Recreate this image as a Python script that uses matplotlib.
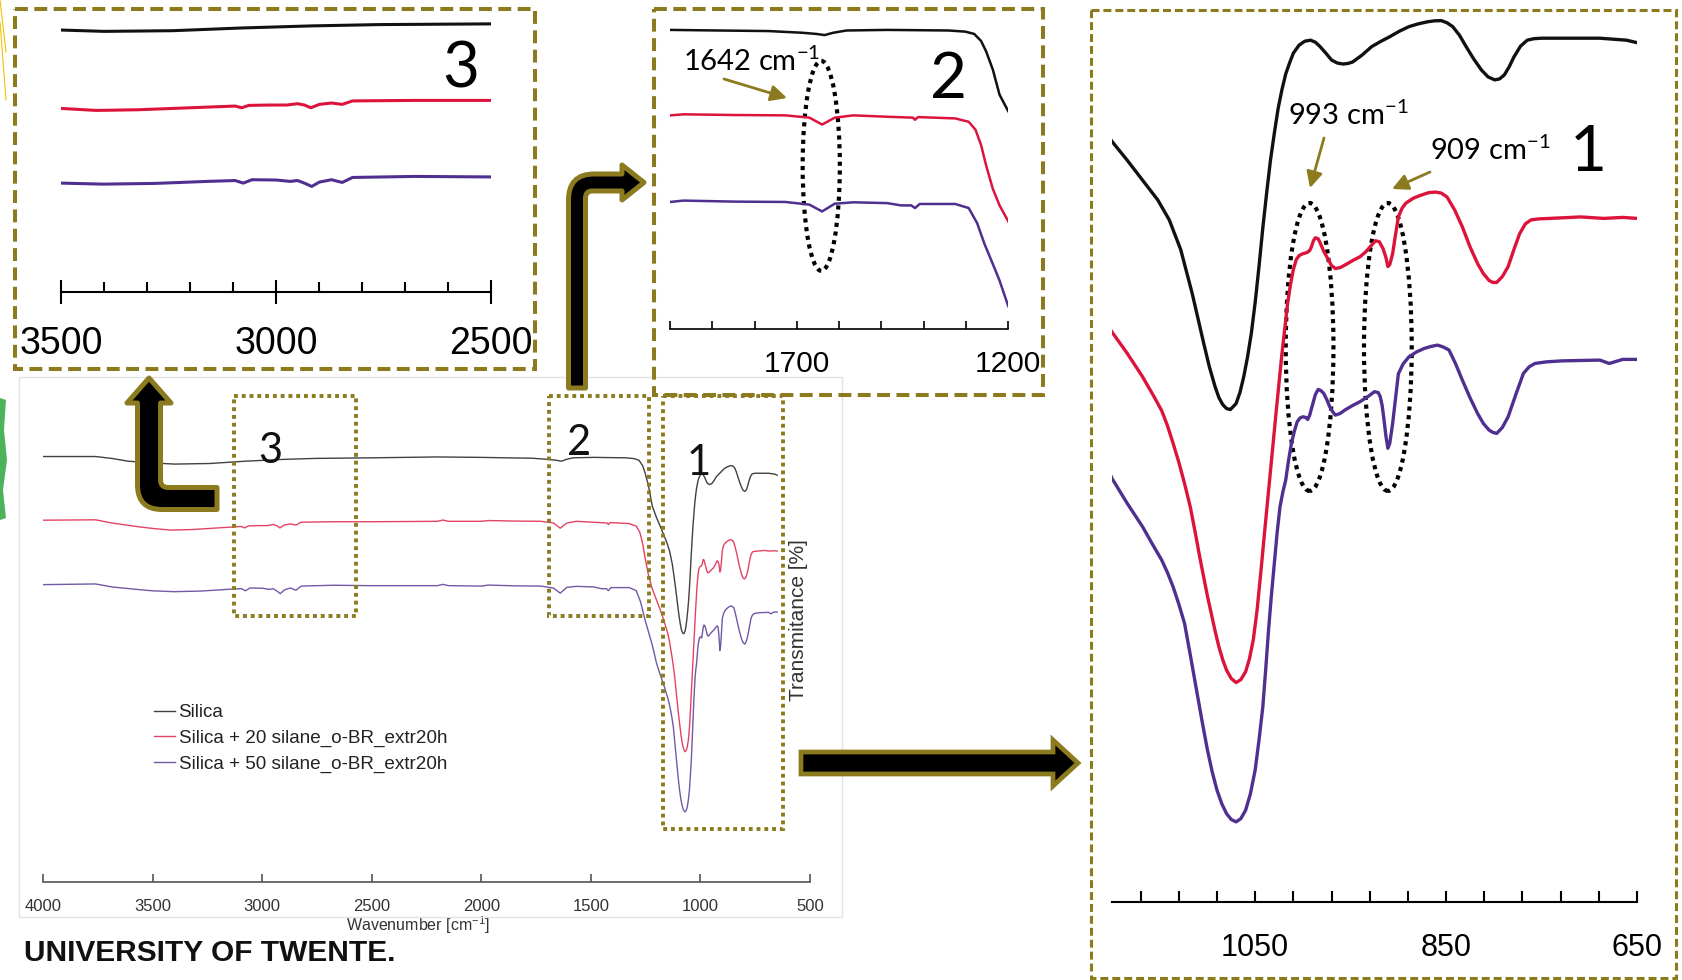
import matplotlib
matplotlib.use('Agg')
from matplotlib import pyplot as plt
from matplotlib.patches import Ellipse, Rectangle, PathPatch, Polygon
from matplotlib.path import Path

W, H = 1682, 980
plt.rcParams['mathtext.default'] = 'regular'

# ---- data (wavenumber [cm-1], transmittance [%, offset]) ----
names = ['Silica', 'Silica + 20 silane_o-BR_extr20h', 'Silica + 50 silane_o-BR_extr20h']
colors = ['#111111', '#dc143c', '#4f2f8f']

wn_silica = [4000, 3760, 3685, 3610, 3500, 3400, 3240, 3080, 2920, 2760, 2500, 2200, 2000,
             1887, 1767, 1686, 1654, 1634, 1614, 1582, 1486, 1341, 1301, 1280, 1264, 1252,
             1236, 1220, 1200, 1184, 1168, 1152, 1140, 1128, 1116, 1104, 1098, 1092, 1088,
             1084, 1080, 1076, 1070, 1066, 1062, 1058, 1054, 1050, 1046, 1042, 1038, 1034,
             1030, 1026, 1022, 1018, 1014, 1010, 1004, 998, 992, 987, 982, 976, 970, 964, 958,
             953, 948, 938, 928, 918, 909, 899, 889, 879, 869, 862, 855, 849, 843, 836, 829,
             821, 813, 806, 799, 794, 789, 784, 779, 772, 765, 758, 750, 729, 689, 661, 650]
t_silica = [98.0, 98.0, 97.55, 96.9, 96.5, 96.24, 96.37, 96.9, 97.3, 97.56, 97.7, 97.9, 97.8,
            97.7, 97.6, 97.3, 97.1, 96.9, 97.3, 97.7, 97.8, 97.7, 97.5, 97.1, 95.9, 94.1,
            90.9, 86.5, 83.7, 81.8, 79.8, 77.8, 75.8, 72.8, 68.4, 63.4, 61.0, 59.0, 57.9,
            57.2, 56.8, 56.7, 57.3, 58.4, 60.0, 62.0, 64.4, 67.5, 71.1, 75.0, 78.5, 81.8,
            84.5, 87.0, 88.9, 90.5, 91.6, 92.6, 93.4, 93.8, 93.9, 93.7, 93.25, 92.6, 91.9, 91.6,
            91.5, 91.55, 91.7, 92.4, 93.25, 93.8, 94.25, 94.8, 95.26, 95.55, 95.76, 95.85, 95.87,
            95.65, 95.26, 94.4, 93.25, 92.0, 90.9, 90.2, 89.9, 90.0, 90.4, 91.2, 92.2, 93.3,
            93.9, 94.05, 94.1, 94.1, 94.1, 93.9, 93.65]

wn_s20 = [4000, 3760, 3685, 3560, 3500, 3418, 3321, 3241, 3160, 3095, 3080, 3063, 3015, 2975,
          2950, 2934, 2919, 2899, 2871, 2846, 2822, 2677, 2500, 2200, 2175, 2150, 2000, 1968,
          1847, 1727, 1670, 1640, 1610, 1566, 1486, 1425, 1420, 1413, 1325, 1293, 1277, 1264,
          1252, 1236, 1220, 1200, 1184, 1168, 1156, 1148, 1142, 1136, 1130, 1124, 1118, 1112,
          1108, 1104, 1100, 1096, 1092, 1088, 1084, 1080, 1075, 1070, 1065, 1060, 1056, 1052,
          1048, 1044, 1040, 1034, 1028, 1022, 1016, 1013, 1010, 1007, 1004, 1000, 996, 993,
          991, 989, 987, 984, 982, 978, 974, 970, 966, 961, 956, 948, 940, 934, 928, 924, 920,
          916, 913, 911, 909, 906, 903, 900, 896, 892, 884, 876, 868, 861, 855, 849, 841, 833,
          825, 817, 811, 805, 801, 797, 791, 785, 779, 773, 767, 761, 753, 741, 709, 685, 665,
          650]
t_s20 = [83.16, 83.25, 82.5, 81.6, 81.24, 80.85, 80.98, 81.24, 81.5, 81.7, 81.37, 81.83, 81.9,
         81.9, 82.16, 81.9, 81.37, 82.03, 82.29, 82.03, 82.7, 82.8, 82.8, 82.9, 83.2, 82.9, 82.9,
         83.08, 82.96, 82.9, 82.5, 81.3, 82.5, 82.9, 82.66, 82.5, 82.13, 82.6, 82.37, 81.78, 80.4,
         77.8, 74.24, 70.1, 67.2, 64.5, 62.35, 60.0, 58.0, 56.6, 55.1, 53.3, 51.4, 49.25, 46.9,
         43.9, 41.8, 39.85, 37.9, 36.16, 34.4, 32.8, 31.5, 30.45, 29.6, 29.2, 29.5, 30.3, 31.6,
         33.5, 36.5, 40.4, 44.5, 50.5, 56.5, 62.3, 67.4, 69.3, 70.8, 71.8, 72.2, 72.4, 72.5,
         72.7, 73.1, 73.7, 74.0, 73.9, 73.5, 72.6, 71.9, 71.2, 70.9, 71.0, 71.25, 71.7, 72.1,
         72.6, 73.26, 73.7, 73.6, 72.9, 72.0, 71.1, 71.3, 72.4, 74.3, 76.1, 77.0, 77.5, 78.0,
         78.3, 78.55, 78.6, 78.5, 78.1, 76.8, 75.1, 73.1, 71.4, 70.4, 69.7, 69.5, 69.5, 70.1,
         71.1, 72.8, 74.4, 75.4, 75.8, 75.9, 75.95, 76.1, 75.95, 76.05, 75.95]

wn_s50 = [4000, 3760, 3685, 3560, 3500, 3402, 3281, 3160, 3095, 3076, 3056, 2999, 2967, 2950,
          2934, 2917, 2899, 2871, 2846, 2822, 2677, 2500, 2200, 2175, 2150, 2000, 1968, 1847,
          1727, 1670, 1640, 1610, 1566, 1486, 1453, 1429, 1420, 1409, 1325, 1293, 1273, 1256,
          1236, 1220, 1200, 1184, 1168, 1158, 1148, 1142, 1136, 1130, 1124, 1118, 1112, 1106,
          1100, 1095, 1090, 1085, 1080, 1075, 1070, 1065, 1060, 1055, 1050, 1046, 1042, 1039,
          1036, 1033, 1030, 1027, 1024, 1021, 1018, 1015, 1012, 1009, 1006, 1003, 1000, 997,
          995, 993, 990, 987, 984, 981, 978, 975, 972, 969, 966, 961, 956, 948, 940, 932, 925,
          921, 919, 917, 915, 913, 911, 909, 906, 903, 900, 895, 889, 881, 873, 866, 859, 853,
          847, 840, 833, 825, 817, 811, 805, 801, 797, 791, 785, 777, 769, 763, 757, 745, 729,
          689, 679, 665, 650]
t_s50 = [68.14, 68.3, 67.6, 66.97, 66.7, 66.5, 66.64, 67.03, 67.2, 66.7, 67.36, 67.3, 67.03,
         67.2, 66.7, 66.05, 66.9, 67.36, 66.83, 67.8, 68.0, 67.9, 67.9, 68.2, 67.9, 67.8, 68.04,
         67.86, 67.8, 67.33, 66.15, 67.5, 67.74, 67.6, 67.2, 67.2, 66.74, 67.45, 67.45, 66.74,
         64.1, 60.55, 57.0, 54.1, 49.76, 47.24, 44.9, 43.2, 41.55, 40.3, 38.85, 37.1, 35.16,
         32.0, 28.77, 25.5, 22.4, 20.2, 18.36, 17.0, 16.0, 15.4, 15.17, 15.5, 16.35, 18.0, 20.4,
         23.4, 26.75, 30.5, 34.5, 38.0, 41.2, 44.3, 46.9, 48.4, 49.6, 51.6, 53.3, 54.5, 55.47,
         55.85, 55.97, 55.9, 55.7, 56.1, 57.15, 58.2, 58.73, 58.6, 58.3, 57.7, 57.0, 56.5, 56.14,
         56.3, 56.65, 57.1, 57.5, 58.0, 58.5, 58.4, 58.0, 57.1, 55.64, 54.0, 52.8, 53.3, 55.3,
         57.8, 60.3, 61.3, 62.0, 62.5, 62.85, 63.05, 63.19, 63.0, 62.7, 61.3, 59.67, 57.9, 56.3,
         55.3, 54.63, 54.4, 54.29, 54.9, 55.97, 58.2, 60.34, 61.0, 61.34, 61.5, 61.6, 61.68,
         61.34, 61.75, 61.75]

wns = [wn_silica, wn_s20, wn_s50]
ts = [t_silica, t_s20, t_s50]

main_ticks = [4000, 3500, 3000, 2500, 2000, 1500, 1000, 500]
p3_major = [3500, 3000, 2500]
p3_minor = list(range(2500, 3501, 100))
p2_ticks = list(range(1200, 2001, 100))
p2_labels = {1700: '1700', 1200: '1200'}
p1_ticks = list(range(650, 1171, 40))
p1_labels = {1050: '1050', 850: '850', 650: '650'}

ARIAL = ['Liberation Sans', 'DejaVu Sans']
CAL = ['Lato', 'DejaVu Sans']
olive = '#8b7b1e'

fig = plt.figure(figsize=(W / 100, H / 100), dpi=100)


def px_axes(x0, y0, x1, y1):
    return fig.add_axes([x0 / W, 1 - y1 / H, (x1 - x0) / W, (y1 - y0) / H])


def spectra(ax, xlim, ylim, lw, alpha=1.0, label=False):
    for wn, t, c, n in zip(wns, ts, colors, names):
        ax.plot(wn, t, color=c, lw=lw, alpha=alpha, solid_joinstyle='round',
                label=n if label else None)
    ax.set_xlim(*xlim)
    ax.set_ylim(*ylim)
    for s in ('left', 'right', 'top'):
        ax.spines[s].set_visible(False)
    ax.set_yticks([])
    ax.patch.set_alpha(0)


# ---- main spectrum ----
ax = px_axes(43, 375, 810, 882)
spectra(ax, (4000, 500), (-1.165, 117), 1.0, alpha=0.8, label=True)
ax.spines['bottom'].set_color('#555555')
ax.spines['bottom'].set_linewidth(1.2)
ax.set_xticks(main_ticks)
ax.set_xticklabels([str(v) for v in main_ticks], fontfamily=ARIAL, fontsize=12, color='#333333')
ax.tick_params(axis='x', direction='in', length=6, width=1.2, color='#555555', pad=12)
ax.set_xlabel('Wavenumber [cm$^{-1}$]', fontfamily=ARIAL, fontsize=11.5, color='#333333')
ax.xaxis.set_label_coords((418 - 43) / 767, (882 - 925) / 507)
ax.xaxis.label.set_va('center')
leg = ax.legend(loc='upper left', bbox_to_anchor=(154 / W, 1 - 704 / H), bbox_transform=fig.transFigure,
                frameon=False, prop=dict(family=ARIAL, size=13.6), handlelength=1.1,
                handletextpad=0.2, labelspacing=0.45, borderpad=0, borderaxespad=0)
for txt in leg.get_texts():
    txt.set_color('#222222')

# ---- zoom panel 3 ----
a3 = px_axes(61, 10, 491, 292)
spectra(a3, (3500, 2500), (45.5, 100.4), 2.2)
a3.spines['bottom'].set_linewidth(1.5)
a3.set_xticks(p3_major)
a3.set_xticklabels([str(v) for v in p3_major], fontfamily=ARIAL, fontsize=27)
a3.set_xticks(p3_minor, minor=True)
a3.tick_params(axis='x', which='major', direction='inout', length=17, width=1.5, pad=16)
a3.tick_params(axis='x', which='minor', direction='in', length=7, width=1.5)

# ---- zoom panel 2 ----
a2 = px_axes(670, 15, 1008, 329)
spectra(a2, (2000, 1200), (45.65, 100.4), 1.8)
a2.spines['bottom'].set_linewidth(1.2)
a2.set_xticks(p2_ticks)
a2.set_xticklabels([p2_labels.get(v, '') for v in p2_ticks], fontfamily=ARIAL, fontsize=21.5)
a2.tick_params(axis='x', direction='in', length=6, width=1.2, pad=15)
a2.add_patch(Ellipse((1642, 74.1), 88, 36.6, fill=False, ec='black', lw=3.0, ls=(0, (1, 1.1))))

# ---- zoom panel 1 ----
a1 = px_axes(1112, 10, 1637, 902)
spectra(a1, (1200, 650), (7.1, 96.94), 2.4)
a1.spines['bottom'].set_linewidth(1.5)
a1.set_xticks(p1_ticks)
a1.set_xticklabels([p1_labels.get(v, '') for v in p1_ticks], fontfamily=ARIAL, fontsize=22)
a1.tick_params(axis='x', direction='in', length=8, width=1.5, pad=22)
for c in (993, 911):
    a1.add_patch(Ellipse((c, 63.0), 50, 29.0, fill=False, ec='black', lw=3.0, ls=(0, (1, 1.1))))

# ---- overlay: boxes, arrows, labels ----
ov = fig.add_axes([0, 0, 1, 1], zorder=10)
ov.set_xlim(0, W)
ov.set_ylim(H, 0)
ov.axis('off')
ov.patch.set_alpha(0)

ov.add_patch(Rectangle((19, 377), 823, 540, fill=False, ec='#e2e2e2', lw=1))
for x0, y0, x1, y1 in [(234, 396, 356, 616), (549, 396, 649, 616), (663, 396, 783, 829)]:
    ov.add_patch(Rectangle((x0, y0), x1 - x0, y1 - y0, fill=False, ec=olive, lw=2.8, ls=(0, (1, 1))))
ov.add_patch(Rectangle((15, 9), 520, 360, fill=False, ec=olive, lw=2.9, ls=(0, (3.2, 1.6))))
ov.add_patch(Rectangle((654, 9), 389, 386, fill=False, ec=olive, lw=2.9, ls=(0, (3.2, 1.6))))
ov.add_patch(Rectangle((1091, 10), 585, 968, fill=False, ec=olive, lw=2.2, ls=(0, (2.6, 1.3))))

M, L, C, X = Path.MOVETO, Path.LINETO, Path.CURVE3, Path.CLOSEPOLY
up_left = Path([(149, 378), (171, 403), (160.5, 403), (160.5, 480), (160.5, 487.5), (168, 487.5),
                (217, 487.5), (217, 509.5), (162, 509.5), (137.5, 509.5), (137.5, 485),
                (137.5, 403), (127, 403), (149, 378)],
               [M, L, L, L, C, C, L, L, L, C, C, L, L, X])
up_right = Path([(568.5, 388), (568.5, 200), (568.5, 174), (594, 174), (622, 174), (622, 165),
                 (644, 182.5), (622, 200), (622, 191), (592, 191), (585.5, 191), (585.5, 198),
                 (585.5, 388), (568.5, 388)],
                [M, L, C, C, L, L, L, L, L, L, C, C, L, X])
for p in (up_left, up_right):
    ov.add_patch(PathPatch(p, fc='black', ec=olive, lw=3.6, joinstyle='round'))
ov.add_patch(Polygon([(801, 752), (1053, 752), (1053, 740), (1078, 763), (1053, 786), (1053, 774),
                      (801, 774)], closed=True, fc='black', ec=olive, lw=3.4, joinstyle='miter'))

for s, x, y in [('3', 270, 451), ('2', 579, 443), ('1', 699, 463)]:
    ov.text(x, y, s, fontfamily=CAL, fontsize=30, ha='center', va='center', color='#111111')
for s, x, y in [('3', 461, 70), ('2', 949, 80), ('1', 1588, 153)]:
    ov.text(x, y, s, fontfamily=CAL, fontsize=46, ha='center', va='center', color='black')

ov.text(752, 61, '1642 cm$^{-1}$', fontfamily=CAL, fontsize=21, ha='center', va='center')
ov.text(1348, 115, '993 cm$^{-1}$', fontfamily=CAL, fontsize=21, ha='center', va='center')
ov.text(1490, 150, '909 cm$^{-1}$', fontfamily=CAL, fontsize=21, ha='center', va='center')
arr = dict(arrowstyle='-|>', color=olive, lw=2, mutation_scale=24, shrinkA=0, shrinkB=0)
ov.annotate('', xy=(787, 98), xytext=(724, 79), arrowprops=arr)
ov.annotate('', xy=(1310, 188), xytext=(1324, 138), arrowprops=arr)
ov.annotate('', xy=(1392, 189), xytext=(1430, 172), arrowprops=arr)

ov.text(799, 620, 'Transmitance [%]', fontfamily=ARIAL, fontsize=15, rotation=90,
        ha='center', va='center', color='#333333')
ov.text(24, 953, 'UNIVERSITY OF TWENTE.', fontfamily=ARIAL, fontweight='bold', fontsize=21.5,
        ha='left', va='center', color='#111111')

# slide leftovers on the left edge
ov.plot([0, 6], [0, 52], color='#f2c300', lw=0.8)
ov.plot([0, 6], [22, 100], color='#f2c300', lw=0.8)
ov.add_patch(Polygon([(0, 398), (6, 400), (4, 430), (7, 460), (3, 490), (6, 518), (0, 520)],
                     closed=True, fc='#4db35a', ec='none'))

fig.savefig('out.png', dpi=100)
